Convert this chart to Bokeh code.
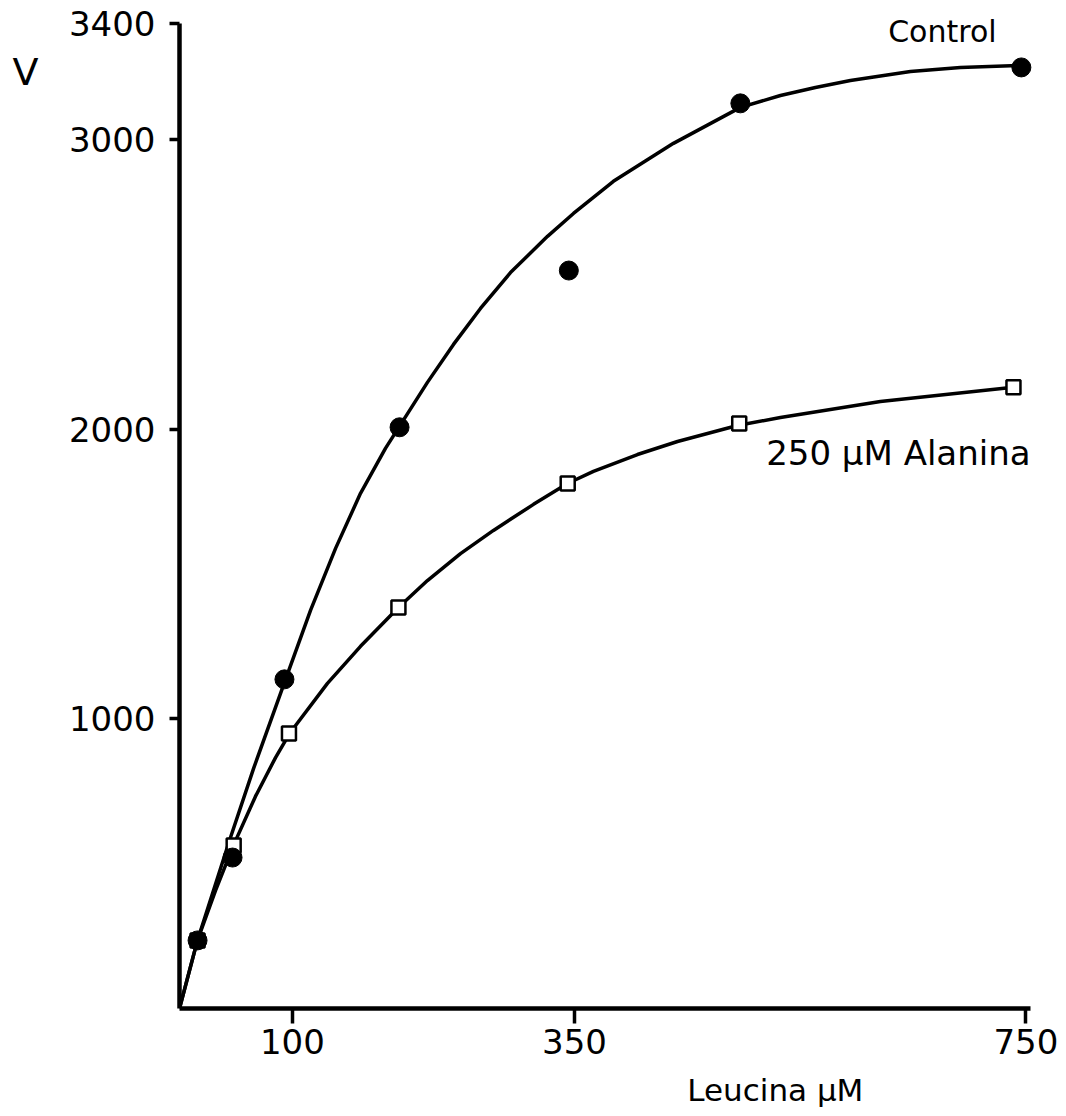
from bokeh.plotting import figure
from bokeh.models import Range1d, Label, FixedTicker, LinearAxis
from bokeh.embed import file_html
from bokeh.resources import INLINE

# Leucine concentration (µM) and uptake velocity V, measured points
control_x = [16, 47, 93, 195, 345, 497, 746]
control_v = [235, 521, 1136, 2006, 2547, 3124, 3248]

alanina_x = [16, 48, 97, 194, 344, 496, 739]
alanina_v = [235, 563, 949, 1384, 1812, 2019, 2144]

# Hand-fitted saturation curves through the points
control_curve_x = [0, 15.9, 44.3, 65.6, 94.0, 116.1, 138.3, 160.4, 182.5, 194.9,
                   219.7, 242.8, 266.7, 293.3, 326.1, 349.1, 384.5, 437.7, 497.1,
                   532.5, 563.5, 594.5, 647.7, 692.0, 745.2]
control_curve_v = [0, 235, 580, 828, 1136, 1374, 1588, 1778, 1933, 2009,
                   2161, 2292, 2416, 2540, 2665, 2744, 2855, 2986, 3110,
                   3151, 3179, 3203, 3234, 3248, 3255]

alanina_curve_x = [0, 15.9, 31.9, 47.8, 67.3, 85.1, 97.5, 131.1, 160.4, 194.0,
                   219.7, 249.0, 278.2, 313.7, 343.8, 366.8, 405.8, 441.3, 494.4,
                   532.5, 621.1, 739.0]
alanina_curve_v = [0, 235, 407, 563, 732, 866, 949, 1122, 1250, 1384,
                   1477, 1570, 1650, 1740, 1812, 1854, 1912, 1957, 2012,
                   2040, 2095, 2144]

x_ticks = [100, 350, 750]
y_ticks = [1000, 2000, 3000, 3400]

FONT = "DejaVu Sans"

p = figure(
    width=1066, height=1116,
    x_range=Range1d(0, 786), y_range=Range1d(0, 3479),
    output_backend="svg", toolbar_location=None,
    min_border_left=179, min_border_right=0,
    min_border_top=0, min_border_bottom=108,
)
p.outline_line_color = None
p.grid.visible = False
p.background_fill_color = "white"
p.border_fill_color = "white"

p.xaxis.bounds = (0, 754)
p.yaxis.bounds = (0, 3400)

for ax in (p.xaxis[0], p.yaxis[0]):
    ax.axis_line_width = 4.5
    ax.axis_line_color = "black"
    ax.major_tick_line_width = 3.5
    ax.major_tick_line_color = "black"
    ax.minor_tick_line_color = None
    ax.major_tick_in = 0
    ax.major_label_text_font = FONT
    ax.major_label_text_font_size = "34px"
    ax.major_label_text_color = "black"

p.xaxis.ticker = FixedTicker(ticks=x_ticks)
p.yaxis.ticker = FixedTicker(ticks=y_ticks)
p.xaxis.major_tick_out = 15
p.yaxis.major_tick_out = 10
p.xaxis.major_label_standoff = 5
p.yaxis.major_label_standoff = 14

# axis titles, set as single-label axes next to the main ones
v_axis = LinearAxis(ticker=FixedTicker(ticks=[3231]),
                    major_label_overrides={3231: "V"})
x_title = LinearAxis(ticker=FixedTicker(ticks=[528]),
                     major_label_overrides={528: "Leucina μM"})
for ax, size in ((v_axis, "38px"), (x_title, "31px")):
    ax.axis_line_color = None
    ax.major_tick_line_color = None
    ax.minor_tick_line_color = None
    ax.major_tick_out = 0
    ax.major_tick_in = 0
    ax.major_label_text_font = FONT
    ax.major_label_text_font_size = size
    ax.major_label_text_color = "black"
v_axis.major_label_standoff = 27
x_title.major_label_standoff = 15
p.add_layout(v_axis, "left")
p.add_layout(x_title, "below")

# curves
p.line(control_curve_x, control_curve_v, line_color="black", line_width=3.5)
p.line(alanina_curve_x, alanina_curve_v, line_color="black", line_width=3.5)

# points
p.scatter(alanina_x, alanina_v, marker="square", size=14,
          fill_color="white", line_color="black", line_width=2.5)
p.scatter(control_x, control_v, marker="circle", size=19,
          fill_color="black", line_color="black")

# curve labels
p.add_layout(Label(x=676, y=3372, text="Control", text_font=FONT,
                   text_font_size="30px", text_align="center",
                   text_baseline="middle", text_color="black"))
p.add_layout(Label(x=637, y=1916, text="250 μM Alanina", text_font=FONT,
                   text_font_size="34px", text_align="center",
                   text_baseline="middle", text_color="black"))

open("out.html", "w").write(file_html(p, INLINE))
